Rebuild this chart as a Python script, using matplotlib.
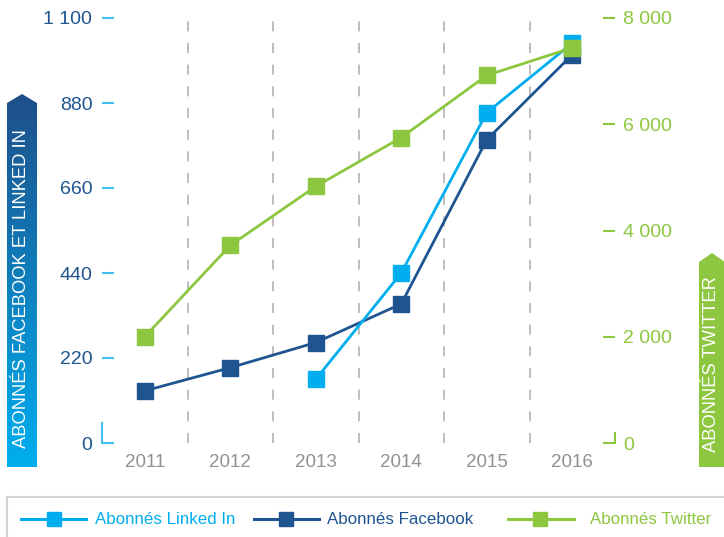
import matplotlib
matplotlib.use("Agg")
import matplotlib.pyplot as plt
import numpy as np
from matplotlib.colors import LinearSegmentedColormap
from matplotlib.lines import Line2D
from matplotlib.patches import Polygon, Rectangle

plt.rcParams['font.family'] = ['Liberation Sans', 'DejaVu Sans']

# Daten
years = ['2011', '2012', '2013', '2014', '2015', '2016']
facebook = [135, 195, 260, 360, 785, 1005]
linkedin = [None, None, 165, 440, 855, 1035]
twitter = [2000, 3720, 4830, 5750, 6920, 7440]

left_ticks = [0, 220, 440, 660, 880, 1100]
left_labels = ['0', '220', '440', '660', '880', '1 100']
right_ticks = [0, 2000, 4000, 6000, 8000]
right_labels = ['0', '2 000', '4 000', '6 000', '8 000']

names = ['Abonnés Linked In', 'Abonnés Facebook', 'Abonnés Twitter']
c_linkedin = '#00aeef'
c_facebook = '#1e5591'
c_twitter = '#8dc63f'

W, H = 724, 537


def fx(px):
    return px / W


def fy(py):
    return 1 - py / H


fig = plt.figure(figsize=(W / 100, H / 100), dpi=100)
ax = fig.add_axes([fx(102), fy(443), (615 - 102) / W, (443 - 18) / H])
ax2 = ax.twinx()

x = np.arange(len(years))
li = np.array([np.nan if v is None else v for v in linkedin], dtype=float)

# gestrichelte Trennlinien zwischen den Jahren
for i in range(len(years) - 1):
    ax.axvline(i + 0.5, color='#b3b3b3', lw=1.2, ls=(0, (6, 7)), zorder=0)

ax.plot(x, facebook, color=c_facebook, lw=2, marker='s', ms=11, zorder=3)
ax.plot(x, li, color=c_linkedin, lw=2, marker='s', ms=11, zorder=4)
ax2.plot(x, twitter, color=c_twitter, lw=2, marker='s', ms=11, zorder=5)

ax.set_xlim(-0.5, 5.5)
ax.set_ylim(0, 1100)
ax2.set_ylim(0, 8000)

for a in (ax, ax2):
    for s in a.spines.values():
        s.set_visible(False)

ax.set_xticks(x)
ax.set_xticklabels(years)
ax.tick_params(axis='x', length=0, pad=8, labelsize=13.5, labelcolor='#929292')

ax.set_yticks(left_ticks)
ax.set_yticklabels(left_labels)
ax.tick_params(axis='y', direction='in', length=8.5, width=1.5, color='#3fbdee',
               pad=7, labelsize=14, labelcolor=c_facebook)

ax2.set_yticks(right_ticks)
ax2.set_yticklabels(right_labels)
ax2.tick_params(axis='y', direction='in', length=8.5, width=1.5, color=c_twitter,
                pad=6, labelsize=14, labelcolor=c_twitter)

# kleine Ecken bei 0
ax.add_line(Line2D([0, 0], [0, 20 / 425], transform=ax.transAxes, color='#3fbdee',
                   lw=1.5, clip_on=False))
ax2.add_line(Line2D([1, 1], [0, 10 / 425], transform=ax2.transAxes, color=c_twitter,
                    lw=1.5, clip_on=False))

# linkes Banner mit Verlauf
bax = fig.add_axes([fx(7), fy(467), 30 / W, (467 - 94) / H])
bax.set_xlim(0, 1)
bax.set_ylim(0, 1)
bax.axis('off')
cmap = LinearSegmentedColormap.from_list('bl', ['#00aeef', '#1e4f8a'])
grad = np.linspace(0, 1, 256).reshape(-1, 1)
im = bax.imshow(grad, cmap=cmap, origin='lower', extent=[0, 1, 0, 1], aspect='auto')
sh = (467 - 103) / (467 - 94)
poly = Polygon([(0, 0), (1, 0), (1, sh), (0.5, 1), (0, sh)], closed=True,
               transform=bax.transAxes, facecolor='none', edgecolor='none')
bax.add_patch(poly)
im.set_clip_path(poly)
fig.text(fx(22), fy(289), 'ABONNÉS FACEBOOK ET LINKED IN', rotation=90, color='white',
         fontsize=13.2, ha='center', va='center')

# rechtes Banner
sh2 = 9
fig.add_artist(Polygon([(fx(699), fy(467)), (fx(725), fy(467)), (fx(725), fy(253 + sh2)),
                        (fx(712), fy(253)), (fx(699), fy(253 + sh2))],
                       closed=True, facecolor=c_twitter, edgecolor='none'))
fig.text(fx(712), fy(364), 'ABONNÉS TWITTER', rotation=90, color='white',
         fontsize=13.2, ha='center', va='center')

# Legende
fig.add_artist(Rectangle((fx(6.5), fy(545)), fx(730), (545 - 497) / H, facecolor='white',
                         edgecolor='#d4d4d4', lw=1.5))
leg = [(21, 86, 54, 95, c_linkedin), (254, 319, 286, 327, c_facebook),
       (508, 574, 540, 590, c_twitter)]
ly = 519
for name, (x0, x1, xm, xt, col) in zip(names, leg):
    fig.add_artist(Line2D([fx(x0), fx(x1)], [fy(ly), fy(ly)], color=col, lw=2.2))
    fig.add_artist(Line2D([fx(xm)], [fy(ly)], color=col, marker='s', ms=10.5, lw=0))
    fig.text(fx(xt), fy(ly), name, color=col, fontsize=12.2, ha='left', va='center')

fig.savefig('out.png', dpi=100)
